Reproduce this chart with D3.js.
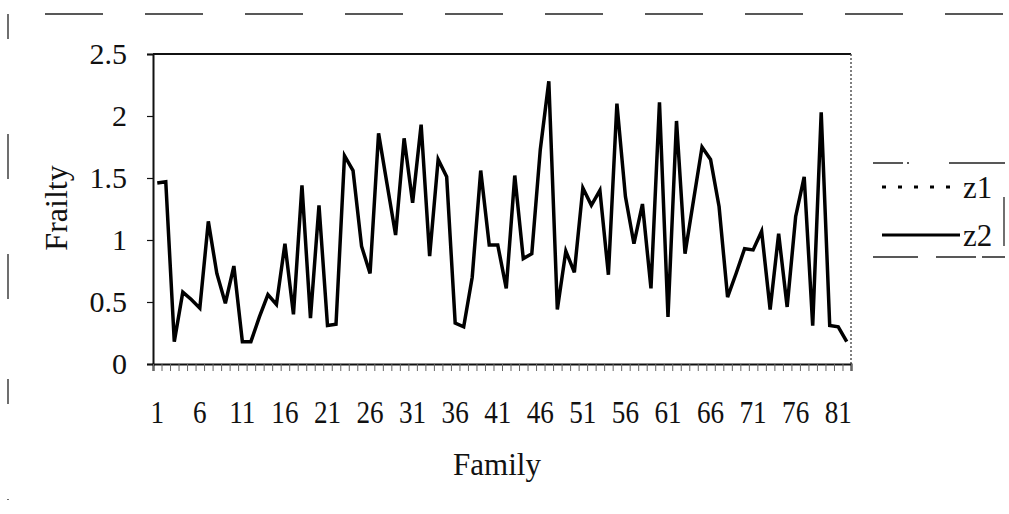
<!DOCTYPE html>
<html>
<head>
<meta charset="utf-8">
<script src="https://cdn.jsdelivr.net/npm/d3@7"></script>
<style>
  body { margin: 0; background: #fff; }
  svg { display: block; font-family: "Liberation Serif", "Times New Roman", serif; }
</style>
</head>
<body>
<svg id="chart" width="1009" height="514"></svg>
<script>
// Frailty estimate per family (z2)
const families = d3.range(1, 83);
const z2 = [
  1.46, 1.47, 0.18, 0.58, 0.52, 0.45, 1.15, 0.73, 0.49, 0.79,
  0.18, 0.18, 0.38, 0.56, 0.48, 0.97, 0.40, 1.44, 0.37, 1.28,
  0.31, 0.32, 1.68, 1.56, 0.95, 0.73, 1.86, 1.45, 1.04, 1.82,
  1.30, 1.93, 0.87, 1.65, 1.51, 0.33, 0.30, 0.70, 1.56, 0.96,
  0.96, 0.61, 1.52, 0.85, 0.89, 1.73, 2.28, 0.44, 0.91, 0.74,
  1.42, 1.28, 1.40, 0.72, 2.10, 1.35, 0.97, 1.29, 0.61, 2.11,
  0.38, 1.96, 0.89, 1.32, 1.75, 1.65, 1.27, 0.54, 0.73, 0.93,
  0.92, 1.07, 0.44, 1.05, 0.46, 1.19, 1.51, 0.31, 2.03, 0.31,
  0.30, 0.18
];
const xTickLabels = [1, 6, 11, 16, 21, 26, 31, 36, 41, 46, 51, 56, 61, 66, 71, 76, 81];
const yTicks = [0, 0.5, 1, 1.5, 2, 2.5];
const legendItems = ["z1", "z2"];

const svg = d3.select("#chart");

// plot area
const plotLeft = 153, plotRight = 851, plotTop = 54, plotBottom = 364;

const x = d3.scaleBand().domain(families).range([plotLeft, plotRight]);
const xEdge = d3.scaleLinear().domain([0, families.length]).range([plotLeft, plotRight]);
const y = d3.scaleLinear().domain([0, 2.5]).range([plotBottom, plotTop]);

// outer chart border (faint, broken like a scan)
svg.append("line")
  .attr("x1", 45).attr("x2", 1005).attr("y1", 14).attr("y2", 14)
  .attr("stroke", "#222").attr("stroke-width", 1.5)
  .attr("stroke-dasharray", "58,42");
svg.append("line")
  .attr("x1", 8).attr("x2", 8).attr("y1", 14).attr("y2", 500)
  .attr("stroke", "#222").attr("stroke-width", 1.3)
  .attr("stroke-dasharray", "25,95,45,75,45,80");

// plot frame
svg.append("line").attr("x1", plotLeft).attr("x2", plotRight).attr("y1", plotTop).attr("y2", plotTop)
  .attr("stroke", "#111").attr("stroke-width", 2);
svg.append("line").attr("x1", plotRight).attr("x2", plotRight).attr("y1", plotTop).attr("y2", plotBottom)
  .attr("stroke", "#555").attr("stroke-width", 1.5).attr("stroke-dasharray", "2,2");

// y axis
const yAxis = svg.append("g")
  .attr("transform", `translate(${plotLeft},0)`)
  .call(d3.axisLeft(y).tickValues(yTicks).tickSize(6).tickPadding(20)
    .tickFormat(d => String(d)));
yAxis.select(".domain").attr("stroke", "#111").attr("stroke-width", 2);
yAxis.selectAll(".tick line").attr("stroke", "#111").attr("stroke-width", 1.2);
yAxis.selectAll(".tick text")
  .attr("font-size", 30).attr("fill", "#111")
  .attr("font-family", "Liberation Serif");

// x axis: ticks at category boundaries
const xEdges = svg.append("g")
  .attr("transform", `translate(0,${plotBottom})`)
  .call(d3.axisBottom(xEdge).tickValues(d3.range(0, families.length + 1)).tickSize(7).tickFormat(""));
xEdges.select(".domain").attr("stroke", "#111").attr("stroke-width", 2);
xEdges.selectAll(".tick line").attr("stroke", "#666").attr("stroke-width", 1);

// x labels
const xLabels = svg.append("g")
  .attr("transform", `translate(0,${plotBottom})`)
  .call(d3.axisBottom(x).tickValues(xTickLabels).tickSize(0).tickPadding(36));
xLabels.select(".domain").remove();
xLabels.selectAll(".tick text")
  .attr("font-size", 32).attr("fill", "#111")
  .attr("font-family", "Liberation Serif")
  .attr("transform", "scale(0.85,1)");

// axis titles
svg.append("text")
  .attr("transform", "translate(67,208) rotate(-90)")
  .attr("text-anchor", "middle")
  .attr("font-size", 32).attr("fill", "#111")
  .text("Frailty");
svg.append("text")
  .attr("x", 497).attr("y", 475)
  .attr("text-anchor", "middle")
  .attr("font-size", 31).attr("fill", "#111")
  .text("Family");

// z2 series
const line = d3.line()
  .x((d, i) => x(families[i]) + x.bandwidth() / 2)
  .y(d => y(d));
svg.append("path")
  .datum(z2)
  .attr("fill", "none")
  .attr("stroke", "#000")
  .attr("stroke-width", 3.5)
  .attr("stroke-linejoin", "miter")
  .attr("d", line);

// legend
const legend = svg.append("g");
legend.append("line").attr("x1", 873).attr("x2", 1005).attr("y1", 163).attr("y2", 163)
  .attr("stroke", "#222").attr("stroke-width", 1.3).attr("stroke-dasharray", "30,4,2,40,60");
legend.append("line").attr("x1", 873).attr("x2", 1005).attr("y1", 257).attr("y2", 257)
  .attr("stroke", "#222").attr("stroke-width", 1.3).attr("stroke-dasharray", "45,18,40,6,30");
legend.append("line").attr("x1", 1004).attr("x2", 1004).attr("y1", 197).attr("y2", 246)
  .attr("stroke", "#222").attr("stroke-width", 1.3);

const legendY = d3.scalePoint().domain(legendItems).range([187, 235]);
legend.selectAll(".key")
  .data(legendItems)
  .join("line")
  .attr("class", "key")
  .attr("x1", 882)
  .attr("x2", d => d === "z1" ? 950 : 960)
  .attr("y1", d => legendY(d)).attr("y2", d => legendY(d))
  .attr("stroke", "#000")
  .attr("stroke-width", 3)
  .attr("stroke-dasharray", d => d === "z1" ? "4,12" : null);
legend.selectAll(".label")
  .data(legendItems)
  .join("text")
  .attr("class", "label")
  .attr("x", 963)
  .attr("y", d => legendY(d) + 11)
  .attr("font-size", 31).attr("fill", "#111")
  .text(d => d);
</script>
</body>
</html>
